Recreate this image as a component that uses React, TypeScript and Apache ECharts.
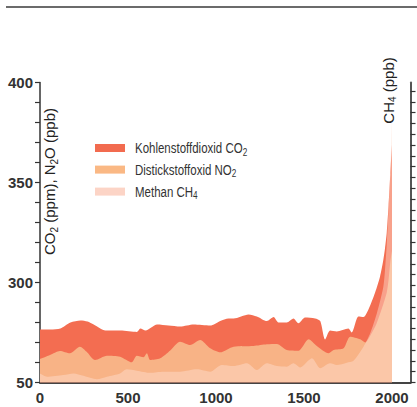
import React, { useEffect, useRef } from "react";
import * as echarts from "echarts";

// CO2 (ppm), left axis
const co2Years = [0, 60, 116, 173, 230, 270, 305, 372, 457, 551, 570, 600, 665, 730, 797, 873, 967, 1024, 1071, 1100, 1185, 1232, 1289, 1327, 1355, 1402, 1440, 1468, 1506, 1563, 1592, 1620, 1648, 1686, 1752, 1771, 1809, 1838, 1866, 1904, 1932, 1950, 1960, 1970, 1980, 1990, 2000];
const co2Values = [276.5, 276.5, 277, 280, 281, 280.5, 279, 276, 276, 275.3, 277, 276, 279, 278.5, 278, 279, 278.5, 280.8, 282, 282, 284, 283, 280.7, 282.7, 280, 280, 282, 279.6, 282.5, 282, 280.7, 271.5, 276, 275.5, 277, 275, 283, 282.7, 286.5, 295, 303, 311, 317, 325, 338, 354, 369];

// N2O (ppb), left axis
const n2oYears = [0, 57, 113, 170, 227, 265, 313, 380, 455, 521, 550, 588, 607, 626, 683, 740, 796, 853, 910, 967, 1024, 1100, 1213, 1289, 1346, 1402, 1469, 1526, 1573, 1640, 1668, 1725, 1762, 1819, 1848, 1880, 1910, 1950, 1970, 1980, 1990, 2000];
const n2oValues = [261.75, 263.75, 265.75, 264.6, 267.9, 265.4, 261.25, 263.4, 262.9, 260.1, 263.4, 262.6, 264.6, 261.25, 262.1, 266, 270.4, 268.75, 271.25, 267.1, 265.1, 267.9, 268.25, 269.1, 269.25, 266.25, 265.9, 271.6, 268.25, 264.6, 266.25, 267.1, 272.9, 271.6, 270, 274, 279, 289, 295, 301, 310, 316];

// CH4 (ppb), right axis
const ch4Years = [0, 40, 133, 190, 247, 323, 380, 455, 493, 550, 626, 702, 797, 891, 967, 1033, 1100, 1175, 1232, 1289, 1346, 1402, 1440, 1478, 1545, 1592, 1648, 1686, 1743, 1781, 1838, 1876, 1914, 1950, 1960, 1970, 1980, 1985, 1990, 1995, 2000];
const ch4Values = [692, 677, 685, 692, 681, 665, 677, 692, 711, 705, 695, 700, 700, 711, 700, 731, 726, 739, 708, 739, 726, 723, 739, 720, 762, 716, 739, 731, 742, 751, 816, 878, 971, 1090, 1170, 1290, 1450, 1540, 1640, 1750, 1875];

const seriesNames = ["Kohlenstoffdioxid CO2", "Distickstoffoxid NO2", "Methan CH4"];
const legendLabels = ["Kohlenstoffdioxid CO{s|2}", "Distickstoffoxid NO{s|2}", "Methan CH{s|4}"];
const xTickLabels = [0, 500, 1000, 1500, 2000];
const leftTickValues = [250, 300, 350, 400];
const leftTickLabels = ["50", "300", "350", "400"];

const zip = (xs: number[], ys: number[]) => xs.map((x, i) => [x, ys[i]]);

const SANS = "'Liberation Sans', Arial, sans-serif";
const SUB = { fontFamily: SANS, fontSize: 10, padding: [9, 0, 0, 0], fill: "#222" };

export default function App() {
  const ref = useRef<HTMLDivElement>(null);
  useEffect(() => {
    if (!ref.current) return;
    const chart = echarts.init(ref.current, undefined, { renderer: "svg" });
    const rightTicks: number[] = [];
    for (let v = 650; v <= 2000; v += 50) rightTicks.push(v);
    const areaColors = ["#F36D51", "#F8B386", "rgb(255,225,210)"];
    const swatchColors = ["#F26B4F", "#FAB884", "#FCD4C6"];
    const legendCenters = [148, 169.6, 191.6];

    const legendGraphics: any[] = [];
    seriesNames.forEach((_, i) => {
      legendGraphics.push({
        type: "rect",
        silent: true,
        shape: { x: 95, y: legendCenters[i] - 4, width: 30, height: 8 },
        style: { fill: swatchColors[i] },
      });
      legendGraphics.push({
        type: "text",
        silent: true,
        x: 135,
        y: legendCenters[i],
        scaleX: 0.82,
        style: {
          text: legendLabels[i],
          fontFamily: SANS,
          fontSize: 14,
          lineHeight: 16,
          fill: "#333",
          align: "left",
          verticalAlign: "middle",
          rich: { s: { ...SUB, fill: "#333" } },
        },
      });
    });

    chart.setOption({
      animation: false,
      backgroundColor: "#ffffff",
      grid: { left: 40, right: 6.5, top: 82.5, bottom: 24.5 },
      xAxis: {
        type: "value",
        min: 0,
        max: 2105,
        interval: 500,
        axisLine: { show: true, lineStyle: { color: "#444", width: 2 } },
        axisTick: { show: false },
        splitLine: { show: false },
        axisLabel: {
          margin: 7,
          fontFamily: SANS,
          fontSize: 15,
          fontWeight: "bold",
          color: "#333",
          formatter: (v: number) => (xTickLabels.indexOf(v) >= 0 ? String(v) : ""),
        },
      },
      yAxis: [
        {
          type: "value",
          position: "left",
          min: 250,
          max: 400,
          interval: 10,
          axisLine: { show: true, lineStyle: { color: "#333", width: 1.5 } },
          axisTick: { show: true, length: 5, lineStyle: { color: "#333", width: 1.2 } },
          splitLine: { show: false },
          axisLabel: {
            margin: 7,
            fontFamily: SANS,
            fontSize: 15,
            fontWeight: "bold",
            color: "#333",
            formatter: (v: number) => {
              const i = leftTickValues.indexOf(v);
              return i >= 0 ? leftTickLabels[i] : "";
            },
          },
        },
        {
          type: "value",
          position: "right",
          min: 650,
          max: 2040,
          interval: 50,
          axisLine: { show: true, lineStyle: { color: "#555", width: 2 } },
          axisTick: { show: true, length: 5, customValues: rightTicks, lineStyle: { color: "#333", width: 1.2 } },
          axisLabel: { show: false },
          splitLine: { show: false },
        },
      ],
      series: [
        {
          type: "line",
          name: seriesNames[0],
          yAxisIndex: 0,
          data: zip(co2Years, co2Values),
          showSymbol: false,
          symbol: "none",
          smooth: 0.25,
          silent: true,
          lineStyle: { width: 0 },
          itemStyle: { color: swatchColors[0] },
          areaStyle: { color: areaColors[0], opacity: 1, origin: "start" },
        },
        {
          type: "line",
          name: seriesNames[1],
          yAxisIndex: 0,
          data: zip(n2oYears, n2oValues),
          showSymbol: false,
          symbol: "none",
          smooth: 0.25,
          silent: true,
          lineStyle: { width: 0 },
          itemStyle: { color: swatchColors[1] },
          areaStyle: { color: areaColors[1], opacity: 1, origin: "start" },
        },
        {
          type: "line",
          name: seriesNames[2],
          yAxisIndex: 1,
          data: zip(ch4Years, ch4Values),
          showSymbol: false,
          symbol: "none",
          smooth: 0.25,
          silent: true,
          lineStyle: { width: 0 },
          itemStyle: { color: swatchColors[2] },
          areaStyle: { color: areaColors[2], opacity: 0.45, origin: "start" },
        },
      ],
      graphic: [
        {
          type: "line",
          shape: { x1: 6, y1: 7, x2: 417, y2: 7 },
          style: { stroke: "#3a3a3a", lineWidth: 1.5 },
          silent: true,
        },
        {
          type: "text",
          x: 49.5,
          y: 181.5,
          rotation: Math.PI / 2,
          silent: true,
          style: {
            text: "CO{s|2} (ppm), N{s|2}O (ppb)",
            fontFamily: SANS,
            fontSize: 15,
            lineHeight: 16,
            fill: "#222",
            align: "center",
            verticalAlign: "middle",
            rich: { s: SUB },
          },
        },
        {
          type: "text",
          x: 388,
          y: 90.5,
          rotation: Math.PI / 2,
          silent: true,
          style: {
            text: "CH{s|4} (ppb)",
            fontFamily: SANS,
            fontSize: 15,
            lineHeight: 16,
            fill: "#222",
            align: "center",
            verticalAlign: "middle",
            rich: { s: SUB },
          },
        },
        ...legendGraphics,
      ],
    });
    return () => chart.dispose();
  }, []);
  return (
    <div
      ref={ref}
      style={{ position: "absolute", left: 0, top: 0, width: 417, height: 407 }}
    />
  );
}
